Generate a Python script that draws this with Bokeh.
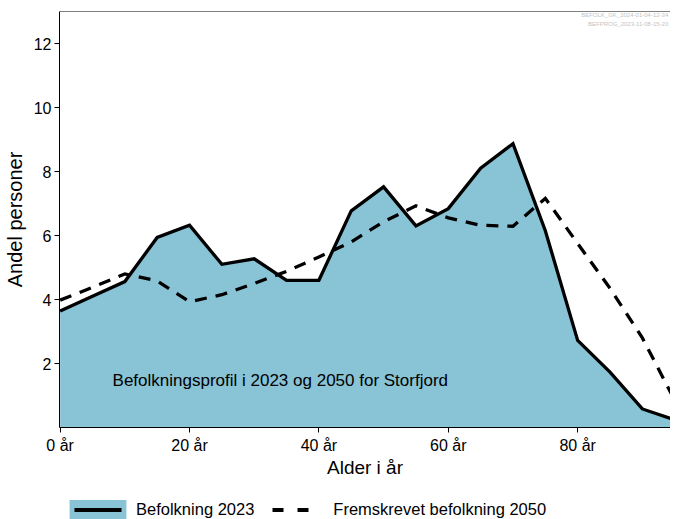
from bokeh.plotting import figure
from bokeh.layouts import column
from bokeh.models import (Range1d, FixedTicker, Legend, LegendItem, Label, Span,
                          ColumnDataSource)
from bokeh.embed import file_html
from bokeh.resources import INLINE

# ---- data -------------------------------------------------------------
ages = [0, 5, 10, 15, 20, 25, 30, 35, 40, 45, 50, 55, 60, 65, 70, 75, 80, 85, 90, 95]
befolkning_2023 = [3.64, 4.10, 4.56, 5.94, 6.32, 5.10, 5.27, 4.60, 4.60, 6.77,
                   7.52, 6.30, 6.84, 8.10, 8.87, 6.15, 2.72, 1.73, 0.58, 0.24]
fremskrevet_2050 = [3.98, 4.38, 4.80, 4.58, 3.93, 4.15, 4.50, 4.88, 5.33, 5.80,
                    6.43, 6.93, 6.55, 6.32, 6.29, 7.16, 5.75, 4.35, 2.80, 0.85]
x_ticks = [0, 20, 40, 60, 80]
x_tick_labels = ["0 år", "20 år", "40 år", "60 år", "80 år"]
y_ticks = [2, 4, 6, 8, 10, 12]
title_text = "Befolkningsprofil i 2023 og 2050 for Storfjord"
stamp_lines = ["BEFOLK_GK_2024-01-04-12-34", "BEFPROG_2023-11-08-15-20"]
legend_labels = ["Befolkning 2023", "Fremskrevet befolkning 2050"]

FONT = "Liberation Sans"
FILL = "#89C3D6"
NAN = float("nan")

p = figure(width=670, height=488, output_backend="svg", toolbar_location=None,
           x_range=Range1d(-0.1, 94.35), y_range=Range1d(0, 13),
           min_border_left=52, min_border_right=0, min_border_top=11,
           min_border_bottom=61)
p.outline_line_color = None
p.grid.visible = False
p.background_fill_color = "white"
p.border_fill_color = "white"

src = ColumnDataSource(dict(age=ages, pop=befolkning_2023, proj=fremskrevet_2050))

p.varea(x="age", y1=0, y2="pop", source=src, fill_color=FILL)
p.line("age", "pop", source=src, line_color="black", line_width=3.3,
       line_join="miter")
p.line("age", "proj", source=src, line_color="black", line_width=3.3,
       line_dash="12 9", line_join="miter")

# top border line
p.add_layout(Span(location=13, dimension="width", line_color="black",
                  line_width=1))

# axes
for ax in (p.xaxis[0], p.yaxis[0]):
    ax.axis_line_color = "black"
    ax.major_tick_line_color = "black"
    ax.minor_tick_line_color = None
    ax.major_tick_out = 5
    ax.major_tick_in = 0
    ax.major_label_text_font = FONT
    ax.major_label_text_font_size = "16px"
    ax.major_label_text_color = "black"
    ax.axis_label_text_font = FONT
    ax.axis_label_text_font_style = "normal"
    ax.axis_label_text_color = "black"

p.xaxis.ticker = FixedTicker(ticks=x_ticks)
p.xaxis.major_label_overrides = {t: l for t, l in zip(x_ticks, x_tick_labels)}
p.xaxis.axis_label = "Alder i år"
p.xaxis.axis_label_text_font_size = "19px"
p.xaxis.major_label_standoff = 4
p.xaxis.axis_label_standoff = 0

p.yaxis.ticker = FixedTicker(ticks=y_ticks)
p.yaxis.axis_label = "Andel personer"
p.yaxis.axis_label_text_font_size = "20px"
p.yaxis.major_label_standoff = 3
p.yaxis.axis_label_standoff = 5

# annotation
p.add_layout(Label(x=8.1, y=1.48, text=title_text, text_font=FONT,
                   text_font_size="17px", text_color="black",
                   text_baseline="alphabetic"))

# source stamps
for i, s in enumerate(stamp_lines):
    p.add_layout(Label(x=94.0, y=12.88 - 0.28 * i, text=s, text_font=FONT,
                       text_font_size="6px", text_color="#c4c4c4",
                       text_align="right", text_baseline="middle"))

# ---- legend strip -------------------------------------------------------
lf = figure(width=670, height=31, output_backend="svg", toolbar_location=None,
            x_range=Range1d(0, 1), y_range=Range1d(0, 1),
            x_axis_location=None, y_axis_location=None,
            min_border=0, min_border_left=0, min_border_right=0,
            min_border_top=0, min_border_bottom=0)
lf.outline_line_color = None
lf.grid.visible = False
lf.background_fill_color = "white"
lf.border_fill_color = "white"

leg_area = lf.varea(x=[NAN, NAN], y1=[NAN, NAN], y2=[NAN, NAN], fill_color=FILL)
leg_solid = lf.line(x=[NAN, NAN], y=[NAN, NAN], line_color="black",
                    line_width=4, line_dash="0 12 47 12")
leg_dash = lf.line(x=[NAN, NAN], y=[NAN, NAN], line_color="black",
                   line_width=4, line_dash="0 13 11 14 11 22")

legend = Legend(items=[LegendItem(label=legend_labels[0], renderers=[leg_area, leg_solid]),
                       LegendItem(label=legend_labels[1], renderers=[leg_dash])],
                orientation="horizontal", location=(3, -3),
                glyph_width=71, glyph_height=25, label_height=25,
                label_standoff=3, spacing=5, padding=0, margin=0,
                border_line_color=None, background_fill_alpha=0,
                label_text_font=FONT, label_text_font_size="16.5px",
                label_text_color="black")
lf.add_layout(legend, "center")

layout = column(p, lf, spacing=0)
open("out.html", "w").write(file_html(layout, INLINE))
